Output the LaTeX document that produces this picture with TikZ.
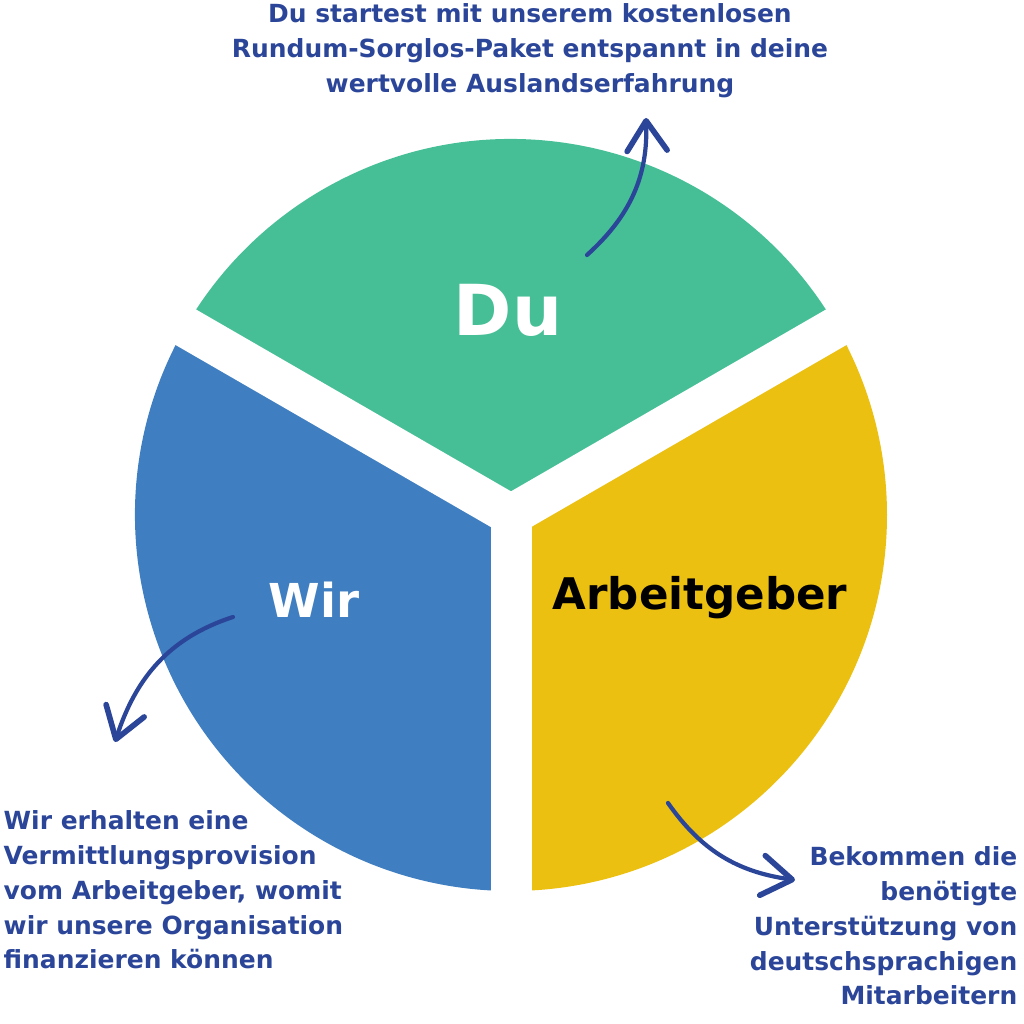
\documentclass[tikz,border=0pt]{standalone}
\usepackage{fontspec}
\setmainfont{DejaVu Sans}
\usetikzlibrary{arrows.meta}
\definecolor{duGreen}{HTML}{46BF97}
\definecolor{wirBlue}{HTML}{3F7EC0}
\definecolor{agYellow}{HTML}{EBC010}
\definecolor{inkBlue}{HTML}{2B4699}
\tikzset{
	gap/.style={white,line width=4.1mm,line cap=round},
	big/.style={font=\bfseries\fontsize{20pt}{24pt}\selectfont,text=white},
	mid/.style={font=\bfseries\fontsize{13.3pt}{16pt}\selectfont},
	note/.style={font=\bfseries\fontsize{7.1pt}{9.9pt}\selectfont,text=inkBlue,inner sep=0pt},
	hand/.style={inkBlue,line width=1.2pt,line cap=round,
		-{Straight Barb[length=3mm,width=4mm,line width=1.6pt,round]}},
	}

\begin{document}
\begin{tikzpicture}
 \useasboundingbox (0,0) rectangle (10.24,10.24);
 \coordinate (ctr) at (5.11,5.09);

 \fill[duGreen] (ctr) -- +(30:3.76) arc[start angle=30,end angle=150,radius=3.76] -- cycle;
 \fill[wirBlue] (ctr) -- +(150:3.76) arc[start angle=150,end angle=270,radius=3.76] -- cycle;
 \fill[agYellow] (ctr) -- +(270:3.76) arc[start angle=270,end angle=390,radius=3.76] -- cycle;
  \foreach \a in {30,150,270}
  \draw[gap] (ctr) -- +(\a:4);

\node (du) at (5.08,7.14) [big] {Du};
\node (wir) at (3.14,4.24) [mid,text=white] {Wir};
\node (ag) at (7.00,4.26) [mid,text=black,font=\bfseries\fontsize{12.4pt}{15pt}\selectfont] {Arbeitgeber};

\node (duTxt) at (5.30,9.73) [note,align=center] {Du startest mit unserem kostenlosen\\Rundum-Sorglos-Paket entspannt in deine\\wertvolle Auslandserfahrung};
\node (wirTxt) at (0.03,1.34) [note,align=left,anchor=west] {Wir erhalten eine\\Vermittlungsprovision\\vom Arbeitgeber, womit\\wir unsere Organisation\\finanzieren können};
\node (agTxt) at (10.18,0.98) [note,align=right,anchor=east] {Bekommen die\\benötigte\\Unterstützung von\\deutschsprachigen\\Mitarbeitern};

\coordinate (duFrom) at (5.87,7.69);
\coordinate (duTo) at (6.46,9.06);
\coordinate (wirFrom) at (2.33,4.07);
\coordinate (wirTo) at (1.15,2.82);
\coordinate (agFrom) at (6.68,2.21);
\coordinate (agTo) at (7.95,1.44);
 \draw[hand] (duFrom) to[out=42,in=-88] (duTo);
 \draw[hand] (wirFrom) to[out=198,in=72] (wirTo);
 \draw[hand] (agFrom) to[out=-55,in=172] (agTo);
\end{tikzpicture}
\end{document}
